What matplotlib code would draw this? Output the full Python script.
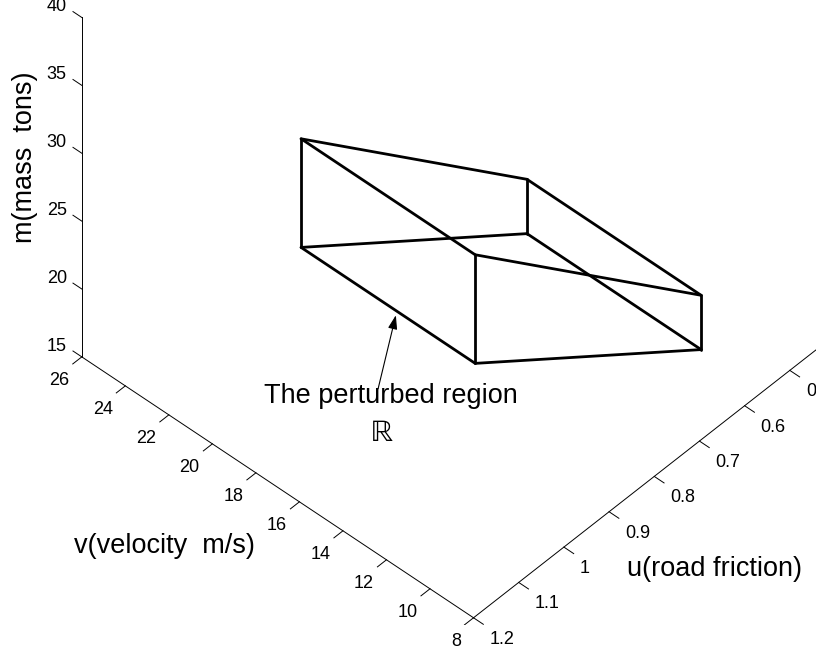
import matplotlib.pyplot as plt
from mpl_toolkits.mplot3d import proj3d

plt.rcParams['font.family'] = ['Liberation Sans', 'DejaVu Sans']

# ---------------------------------------------
# axis ranges and ticks
# ---------------------------------------------
v_lim = (8, 26)        # velocity m/s
u_lim = (0.4, 1.2)     # road friction
m_lim = (15, 40)       # mass tons

v_ticks = [8, 10, 12, 14, 16, 18, 20, 22, 24, 26]
u_ticks = [0.4, 0.5, 0.6, 0.7, 0.8, 0.9, 1.0, 1.1, 1.2]
m_ticks = [15, 20, 25, 30, 35, 40]

# ---------------------------------------------
# perturbed region: two velocity planes, two friction faces,
# each face with its own mass band
# ---------------------------------------------
region_v = [10, 18]
region_u = [1.1, 0.6]
region_m_low = [29, 17]
region_m_high = [37, 21]

# point on the lower front edge the arrow points at
arrow_v = 13.6

# ---------------------------------------------
# figure / 3D axes
# ---------------------------------------------
fig = plt.figure(figsize=(8.16, 6.49), dpi=100)
W = 873.0
ax = fig.add_axes([10.1 / 816, 24.45 / 649, W / 816, W / 649], projection='3d')
ax.set_proj_type('ortho')
ax.view_init(elev=46.2, azim=132.7)
ax.set_box_aspect((1, 1, 0.92))
ax.set_xlim(*v_lim)
ax.set_ylim(*u_lim)
ax.set_zlim(*m_lim)
ax.set_axis_off()

M = ax.get_proj()


def put_text(v, u, m, s, **kw):
    # place a 2D text at the screen position of a 3D point
    x, y, _ = proj3d.proj_transform(v, u, m, M)
    return ax.text2D(x, y, s, transform=ax.transData, **kw)


box_kw = dict(color='k', lw=2.0, solid_capstyle='round')
axis_kw = dict(color='k', lw=0.7)

# region wireframe
for v in region_v:
    for u, lo, hi in zip(region_u, region_m_low, region_m_high):
        ax.plot([v, v], [u, u], [lo, hi], **box_kw)
    ax.plot([v, v], region_u, region_m_low, **box_kw)
    ax.plot([v, v], region_u, region_m_high, **box_kw)
for u, lo, hi in zip(region_u, region_m_low, region_m_high):
    ax.plot(region_v, [u, u], [lo, lo], **box_kw)
    ax.plot(region_v, [u, u], [hi, hi], **box_kw)

# ---------------------------------------------
# axis lines, ticks and tick labels
# ---------------------------------------------
v0, v1 = v_lim
u0, u1 = u_lim
m0, m1 = m_lim
du = 0.025 * (u1 - u0)
dv = 0.025 * (v1 - v0)

ax.plot(v_lim, [u1, u1], [m0, m0], **axis_kw)
ax.plot([v0, v0], u_lim, [m0, m0], **axis_kw)
ax.plot([v1, v1], [u1, u1], m_lim, **axis_kw)

for t in v_ticks:
    ax.plot([t, t], [u1, u1 + du], [m0, m0], **axis_kw)
    put_text(t, u1 + 0.028, m0 - 1.0, f'{t:g}', ha='right', va='center', fontsize=13)

for t in u_ticks:
    ax.plot([v0, v0 - dv], [t, t], [m0, m0], **axis_kw)
    put_text(v0 - 0.734, t, m0 - 0.8, f'{t:g}', ha='left', va='center', fontsize=13)

for t in m_ticks:
    ax.plot([v1, v1 + 0.9 * dv], [u1, u1], [t, t], **axis_kw)
    put_text(v1 + 0.69, u1, t + 0.05, f'{t:g}', ha='right', va='center', fontsize=13)

# axis labels
put_text(28.6, u1, 26.9, 'm(mass  tons)', rotation=90, ha='center', va='center', fontsize=19.5)
put_text(17, 1.45, 17.2, 'v(velocity  m/s)', ha='center', va='center', fontsize=19.5)
put_text(5.25, 0.8, 11.1, 'u(road friction)', ha='center', va='center', fontsize=19.5)

# ---------------------------------------------
# annotation of the region
# ---------------------------------------------
tx, ty, _ = proj3d.proj_transform(arrow_v, region_u[0], region_m_low[0], M)

ax.annotate('', xy=(tx, ty), xytext=(-13.5, -55.9), textcoords='offset points',
            arrowprops=dict(arrowstyle='-|>,head_length=0.6,head_width=0.2',
                            mutation_scale=14, lw=0.8, color='k',
                            shrinkA=0, shrinkB=3))
ax.annotate('The perturbed region', xy=(tx, ty), xytext=(-4, -61),
            textcoords='offset points', ha='center', va='center', fontsize=19.5)
ax.annotate('\u211d', xy=(tx, ty), xytext=(-10.8, -88.3),
            textcoords='offset points', ha='center', va='center', fontsize=22,
            family='STIXGeneral')

fig.savefig('out.png', dpi=100)
